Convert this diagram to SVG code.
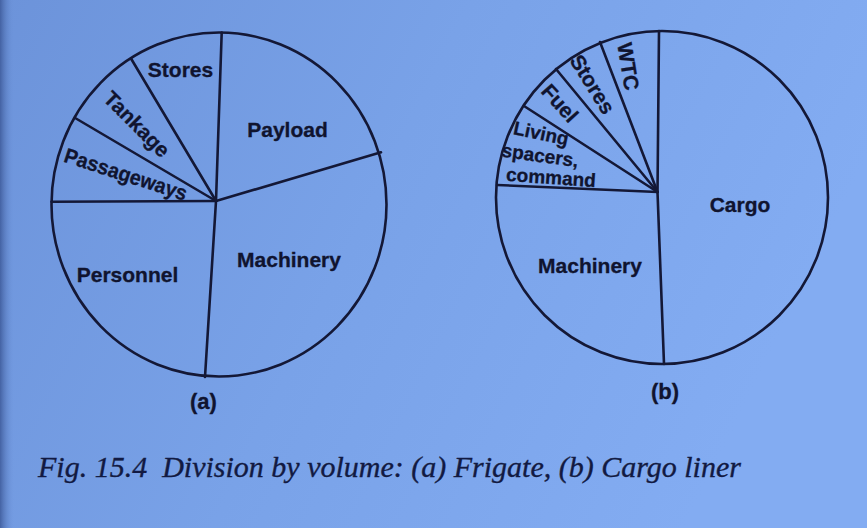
<svg xmlns="http://www.w3.org/2000/svg" width="867" height="528" viewBox="0 0 867 528">
  <defs>
    <linearGradient id="bg" x1="0" y1="0" x2="1" y2="0.3">
      <stop offset="0" stop-color="#6c93da"/>
      <stop offset="0.5" stop-color="#79a2e8"/>
      <stop offset="1" stop-color="#83acf2"/>
    </linearGradient>
    <linearGradient id="edge" x1="0" y1="0" x2="1" y2="0">
      <stop offset="0" stop-color="#3f5c9c" stop-opacity="0.9"/>
      <stop offset="1" stop-color="#6c93da" stop-opacity="0"/>
    </linearGradient>
  </defs>
  <style>
    .ln { fill: none; stroke: #141836; stroke-width: 2.6; stroke-linecap: round; }
    .lb { font-family: "Liberation Sans", Arial, sans-serif; font-weight: bold; font-size: 21px; fill: #10142f; stroke: #10142f; stroke-width: 0.3; }
    .sm { font-size: 19px; }
    .pl { font-size: 22px; }
    .cap { font-family: "Liberation Serif", "Times New Roman", serif; font-style: italic; font-size: 30px; fill: #121a42; stroke: #121a42; stroke-width: 0.35; }
  </style>
  <rect x="0" y="0" width="867" height="528" fill="url(#bg)"/>
  <rect x="0" y="0" width="14" height="528" fill="url(#edge)"/>

  <g id="pie-a">
    <ellipse class="ln" cx="219" cy="204.5" rx="167.5" ry="172"/>
    <g id="connectors-a">
      <line class="ln" x1="216" y1="201" x2="221.7" y2="32.5"/>
      <line class="ln" x1="216" y1="201" x2="381" y2="152.3"/>
      <line class="ln" x1="216" y1="201" x2="205" y2="377"/>
      <line class="ln" x1="216" y1="201" x2="51.5" y2="201.7"/>
      <line class="ln" x1="216" y1="201" x2="76" y2="118.5"/>
      <line class="ln" x1="216" y1="201" x2="131" y2="58.5"/>
    </g>
    <g id="labels-a">
      <text class="lb" x="180.5" y="77" text-anchor="middle">Stores</text>
      <text class="lb" x="287.5" y="137" text-anchor="middle">Payload</text>
      <text class="lb" x="289" y="267" text-anchor="middle">Machinery</text>
      <text class="lb" x="127.5" y="282" text-anchor="middle">Personnel</text>
      <text class="lb" transform="translate(136 125) rotate(45)" x="0" y="6" text-anchor="middle">Tankage</text>
      <text class="lb" transform="translate(125.5 175.5) rotate(18)" x="0" y="6" text-anchor="middle" textLength="128" lengthAdjust="spacingAndGlyphs">Passageways</text>
      <text class="lb pl" x="203.5" y="409" text-anchor="middle">(a)</text>
    </g>
  </g>

  <g id="pie-b">
    <ellipse class="ln" cx="662" cy="197.5" rx="166" ry="166.5"/>
    <g id="connectors-b">
      <line class="ln" x1="657.5" y1="192" x2="659" y2="31"/>
      <line class="ln" x1="657.5" y1="192" x2="664" y2="364"/>
      <line class="ln" x1="657.5" y1="192" x2="497" y2="185"/>
      <line class="ln" x1="657.5" y1="192" x2="524" y2="106"/>
      <line class="ln" x1="657.5" y1="192" x2="556" y2="69"/>
      <line class="ln" x1="657.5" y1="192" x2="600" y2="42"/>
    </g>
    <g id="labels-b">
      <text class="lb" transform="translate(628.5 66.5) rotate(81)" x="0" y="7.5" text-anchor="middle">WTC</text>
      <text class="lb" transform="translate(591.5 85) rotate(58)" x="0" y="6" text-anchor="middle">Stores</text>
      <text class="lb" transform="translate(559 104) rotate(48)" x="0" y="6" text-anchor="middle">Fuel</text>
      <text class="lb sm" transform="translate(541 134) rotate(12)" x="0" y="6" text-anchor="middle">Living</text>
      <text class="lb sm" transform="translate(540 157) rotate(8)" x="0" y="5" text-anchor="middle">spacers,</text>
      <text class="lb sm" transform="translate(551 178) rotate(4)" x="0" y="6" text-anchor="middle">command</text>
      <text class="lb" x="740" y="211.5" text-anchor="middle">Cargo</text>
      <text class="lb" x="590" y="273" text-anchor="middle">Machinery</text>
      <text class="lb pl" x="665" y="399" text-anchor="middle">(b)</text>
    </g>
  </g>

  <text id="caption" class="cap" x="38" y="477">Fig. 15.4&#160; Division by volume: (a) Frigate, (b) Cargo liner</text>
</svg>
